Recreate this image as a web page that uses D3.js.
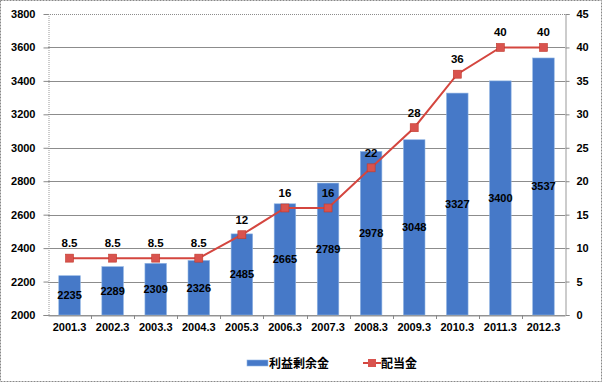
<!DOCTYPE html>
<html><head><meta charset="utf-8">
<script src="https://cdn.jsdelivr.net/npm/d3@7"></script>
<style>body{margin:0;background:#fff}svg{display:block}text{font-family:"Liberation Sans",Arial,sans-serif;font-weight:bold;fill:#000}</style>
</head><body>
<script>
const categories = ["2001.3","2002.3","2003.3","2004.3","2005.3","2006.3","2007.3","2008.3","2009.3","2010.3","2011.3","2012.3"];
const retained = [2235,2289,2309,2326,2485,2665,2789,2978,3048,3327,3400,3537];
const dividend = [8.5,8.5,8.5,8.5,12,16,16,22,28,36,40,40];
const leftTicks = [2000,2200,2400,2600,2800,3000,3200,3400,3600,3800];
const rightTicks = [0,5,10,15,20,25,30,35,40,45];
const seriesNames = ["利益剰余金","配当金"];

const W=602,H=382;
const svg=d3.select("body").append("svg").attr("width",W).attr("height",H);
svg.append("rect").attr("x",0.5).attr("y",0.5).attr("width",W-1).attr("height",H-1)
  .attr("fill","#fff").attr("stroke","#888").attr("stroke-dasharray","2,1");

const L=48,R=565,T=14,B=315;
const x=d3.scaleBand().domain(categories).range([L,R]);
const yL=d3.scaleLinear().domain([2000,3800]).range([B,T]);
const yR=d3.scaleLinear().domain([0,45]).range([B,T]);
const FS=11;

// gridlines
svg.append("g").selectAll("line").data(leftTicks).join("line")
  .attr("x1",L).attr("x2",R).attr("y1",d=>Math.round(yL(d))+0.5).attr("y2",d=>Math.round(yL(d))+0.5)
  .attr("stroke","#8c8c8c").attr("stroke-width",1)
  .attr("stroke-dasharray",d=>d===3800?"1,1":null);

// left axis
const gl=svg.append("g").attr("transform",`translate(${L+0.5},0)`)
  .call(d3.axisLeft(yL).tickValues(leftTicks).tickSize(5).tickPadding(8).tickFormat(d3.format("d")));
gl.select(".domain").attr("stroke","#999").attr("stroke-dasharray","1,1");
gl.selectAll(".tick line").attr("stroke","#888");
gl.selectAll("text").attr("font-size",FS).style("font-family","Liberation Sans").style("font-weight","bold");

// right axis
const gr=svg.append("g").attr("transform",`translate(${R+0.5},0)`)
  .call(d3.axisRight(yR).tickValues(rightTicks).tickSize(4).tickPadding(7));
gr.select(".domain").attr("stroke","#999");
gr.selectAll(".tick line").attr("stroke","#888");
gr.selectAll("text").attr("font-size",FS).style("font-family","Liberation Sans").style("font-weight","bold");

// bars
const bw=x.bandwidth()*0.5;
svg.append("g").selectAll("rect").data(retained).join("rect")
  .attr("x",(d,i)=>x(categories[i])+x.bandwidth()/2-bw/2)
  .attr("y",d=>yL(d)).attr("width",bw).attr("height",d=>B-yL(d))
  .attr("fill","#4679c8").attr("stroke","#8fb4e3").attr("stroke-width",0.6);

// bottom axis
const gb=svg.append("g").attr("transform",`translate(0,${B+0.5})`)
  .call(d3.axisBottom(x).tickSize(0).tickPadding(8));
gb.select(".domain").attr("stroke","#999");
gb.selectAll("text").attr("font-size",FS).style("font-family","Liberation Sans").style("font-weight","bold");
svg.append("g").selectAll("line").data(categories.slice(1)).join("line")
  .attr("x1",d=>Math.round(x(d))+0.5).attr("x2",d=>Math.round(x(d))+0.5)
  .attr("y1",B).attr("y2",B+4).attr("stroke","#888");

// bar labels
svg.append("g").selectAll("text").data(retained).join("text")
  .attr("x",(d,i)=>x(categories[i])+x.bandwidth()/2)
  .attr("y",d=>(yL(d)+B)/2+4).attr("text-anchor","middle").attr("font-size",FS).text(d=>d);

// line
const cx=(i)=>x(categories[i])+x.bandwidth()/2;
svg.append("path").datum(dividend)
  .attr("d",d3.line().x((d,i)=>cx(i)).y(d=>yR(d)))
  .attr("fill","none").attr("stroke","#d4463f").attr("stroke-width",2);
svg.append("g").selectAll("rect").data(dividend).join("rect")
  .attr("x",(d,i)=>cx(i)-4).attr("y",d=>yR(d)-4).attr("width",8).attr("height",8)
  .attr("fill","#d9534e").attr("stroke","#c0392b").attr("stroke-width",0.6);
svg.append("g").selectAll("text").data(dividend).join("text")
  .attr("x",(d,i)=>cx(i)).attr("y",d=>yR(d)-11).attr("text-anchor","middle")
  .attr("font-size",11.5).text(d=>d);

// legend
const lg=svg.append("g");
lg.append("rect").attr("x",247).attr("y",360).attr("width",21).attr("height",6).attr("fill","#4679c8").attr("stroke","#8fb4e3").attr("stroke-width",0.6);
lg.append("text").attr("x",269).attr("y",368).attr("font-size",12).style("font-family","'Noto Sans CJK JP'").text(seriesNames[0]);
lg.append("line").attr("x1",363).attr("x2",381).attr("y1",363).attr("y2",363).attr("stroke","#d4463f").attr("stroke-width",2);
lg.append("rect").attr("x",368).attr("y",359).attr("width",8).attr("height",8).attr("fill","#d9534e");
lg.append("text").attr("x",381).attr("y",368).attr("font-size",12).style("font-family","'Noto Sans CJK JP'").text(seriesNames[1]);
</script>
</body></html>
